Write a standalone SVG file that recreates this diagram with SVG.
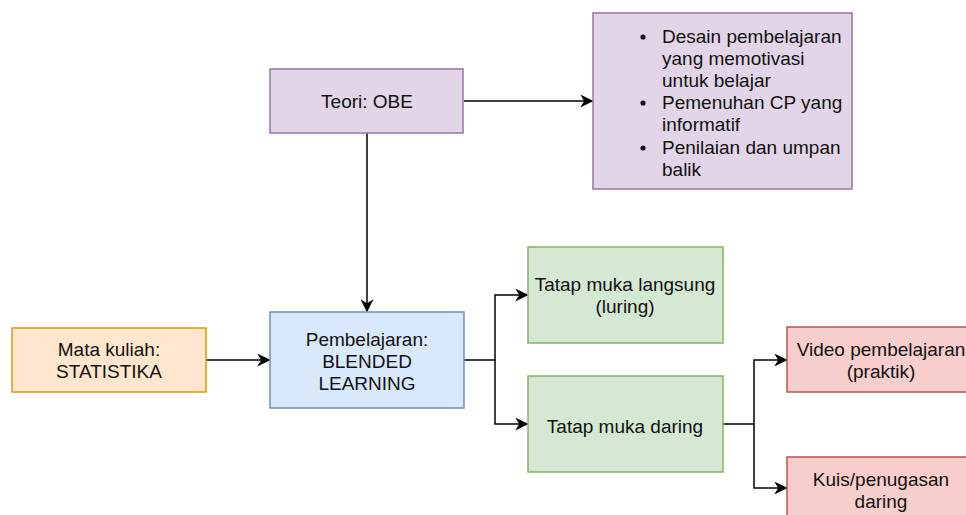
<svg xmlns="http://www.w3.org/2000/svg" width="966" height="515" viewBox="0 0 966 515">
<style>
text{font-family:"Liberation Sans",Arial,Helvetica,sans-serif;font-size:19px;fill:#111;text-anchor:middle}
.l{text-anchor:start}
.pu{fill:#e1d5e7;stroke:#9673a6;stroke-width:1.5}
.or{fill:#ffe6cc;stroke:#d79b00;stroke-width:1.5}
.bl{fill:#dae8fc;stroke:#6c8ebf;stroke-width:1.5}
.gr{fill:#d5e8d4;stroke:#82b366;stroke-width:1.5}
.rd{fill:#f8cecc;stroke:#b85450;stroke-width:1.5}
.c{fill:none;stroke:#000;stroke-width:1.5;marker-end:url(#ah)}
</style>
<defs>
<marker id="ah" viewBox="0 0 10 10" refX="9" refY="5" markerWidth="13" markerHeight="13" markerUnits="userSpaceOnUse" orient="auto">
<path d="M0,0 L10,5 L0,10 L3,5 Z" fill="#000"/>
</marker>
</defs>
<rect width="966" height="515" fill="#fff"/>
<g id="connectors">
<path class="c" d="M464,101 H592"/>
<path class="c" d="M367,133 V311"/>
<path class="c" d="M206,360 H269"/>
<path class="c" d="M464,360 H495 V295 H527"/>
<path class="c" d="M495,360 V424 H527"/>
<path class="c" d="M723,424 H754 V360 H786"/>
<path class="c" d="M754,424 V488 H786"/>
</g>
<g id="obe-list">
<rect class="pu" x="593" y="13" width="259" height="176"/>
<circle cx="643" cy="37" r="2.6" fill="#111"/>
<circle cx="643" cy="103" r="2.6" fill="#111"/>
<circle cx="643" cy="148" r="2.6" fill="#111"/>
<text class="l" x="662" y="43">Desain pembelajaran</text>
<text class="l" x="662" y="65">yang memotivasi</text>
<text class="l" x="662" y="87">untuk belajar</text>
<text class="l" x="662" y="109">Pemenuhan CP yang</text>
<text class="l" x="662" y="131">informatif</text>
<text class="l" x="662" y="154">Penilaian dan umpan</text>
<text class="l" x="662" y="176">balik</text>
</g>
<g id="teori">
<rect class="pu" x="270" y="69" width="193" height="64"/>
<text x="367" y="108">Teori: OBE</text>
</g>
<g id="mata-kuliah">
<rect class="or" x="12" y="328" width="194" height="64"/>
<text x="109" y="356">Mata kuliah:</text>
<text x="109" y="378">STATISTIKA</text>
</g>
<g id="blended">
<rect class="bl" x="270" y="312" width="194" height="96"/>
<text x="367" y="346">Pembelajaran:</text>
<text x="367" y="368">BLENDED</text>
<text x="367" y="390">LEARNING</text>
</g>
<g id="luring">
<rect class="gr" x="528" y="247" width="195" height="96"/>
<text x="625" y="291">Tatap muka langsung</text>
<text x="625" y="313">(luring)</text>
</g>
<g id="daring">
<rect class="gr" x="528" y="376" width="195" height="96"/>
<text x="625" y="433">Tatap muka daring</text>
</g>
<g id="video">
<rect class="rd" x="787" y="327" width="186" height="65"/>
<text x="881" y="356">Video pembelajaran</text>
<text x="881" y="378">(praktik)</text>
</g>
<g id="kuis">
<rect class="rd" x="787" y="457" width="186" height="65"/>
<text x="881" y="486">Kuis/penugasan</text>
<text x="881" y="508">daring</text>
</g>
</svg>
